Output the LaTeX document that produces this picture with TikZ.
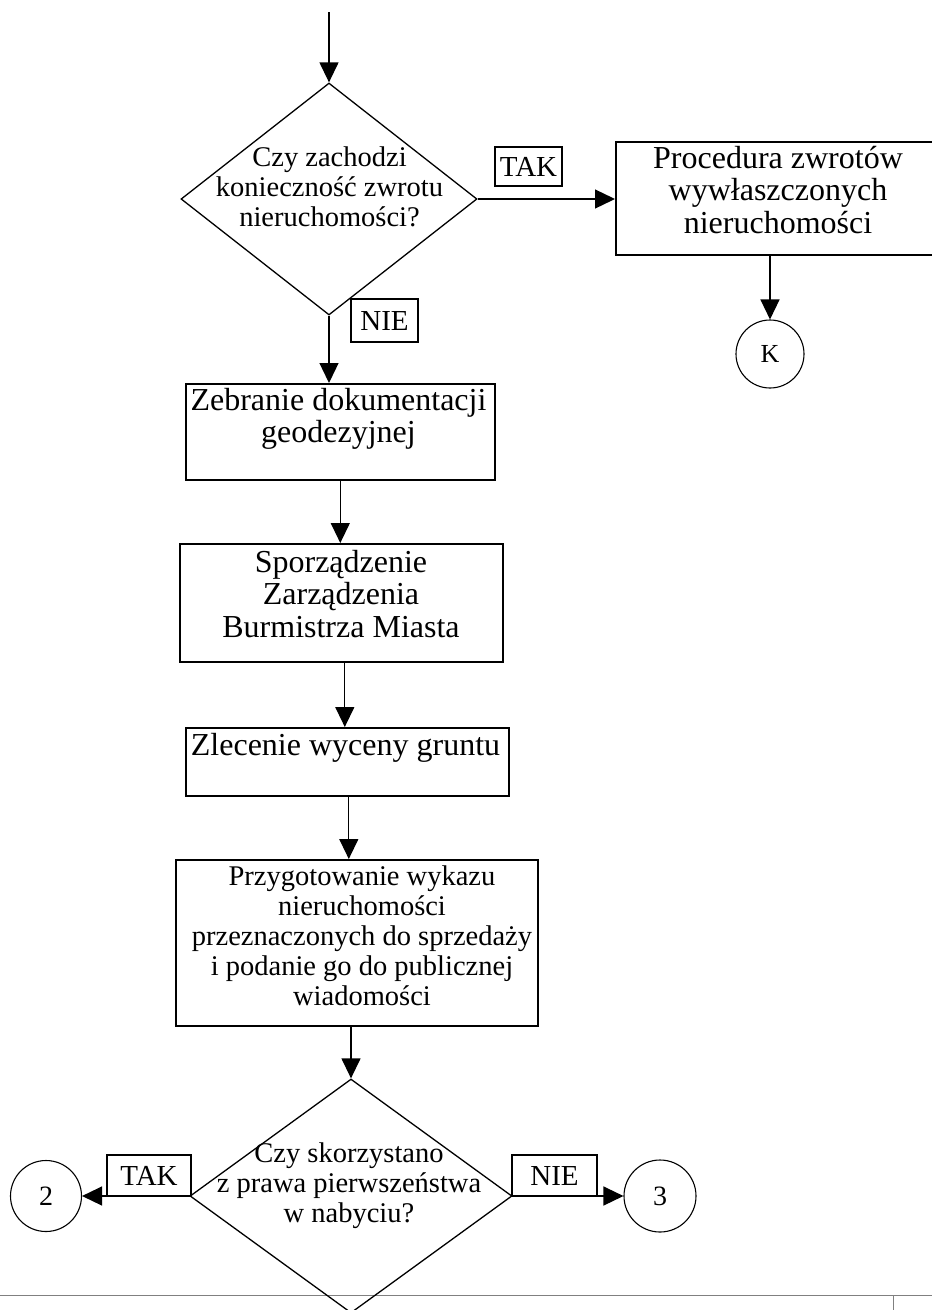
\documentclass[tikz,border=0pt]{standalone}
\usepackage{fontspec}
\setmainfont{Liberation Serif}
\usetikzlibrary{arrows.meta,shapes.geometric}
\newcommand\mlines[1]{\begin{tabular}[t]{@{}c@{}}#1\end{tabular}}
\begin{document}
\begin{tikzpicture}[x=1pt,y=-1pt,
  boxst/.style={draw, line width=1.6pt, rectangle, inner sep=0pt, anchor=north west},
  dec/.style={draw, diamond, line width=1.3pt, inner sep=0pt},
  arr/.style={line width=1.3pt, -{Triangle[length=20pt,width=19pt]}},
  txtL/.style={font=\fontsize{32}{32.5}\selectfont, inner sep=0pt, anchor=base},
  txtS/.style={font=\fontsize{28.5}{30}\selectfont, inner sep=0pt, anchor=base},
  lab/.style={draw, line width=1.4pt, rectangle, inner sep=0pt, font=\fontsize{29}{30}\selectfont},
  circ/.style={draw, circle, line width=1.1pt, inner sep=0pt, font=\fontsize{28}{30}\selectfont}
]
\useasboundingbox (0,0) rectangle (932,1310);

% footer lines
\draw[black!50, line width=1pt] (0,1295) -- (932,1295);
\draw[black!50, line width=1pt] (893,1295) -- (893,1310);

% first decision
\node[dec, minimum width=296pt, minimum height=232pt] (d1) at (329,199) {};
\node[txtS] (d1t) at (329.5,166) {\mlines{Czy zachodzi\\ konieczność zwrotu\\ nieruchomości?}};
\coordinate (start) at (329,12);

% right branch
\node[boxst, minimum width=326pt, minimum height=113pt] (pro) at (615,141) {};
\node[txtL] (prot) at (778,168) {\mlines{Procedura zwrotów\\ wywłaszczonych\\ nieruchomości}};
\node[circ, minimum size=68pt, font=\fontsize{26}{28}\selectfont] (K) at (770,354) {K};

\node[lab, minimum width=67pt, minimum height=39pt] (tak1) at (528.5,166.5) {TAK};
\node[lab, minimum width=67pt, minimum height=43pt] (nie1) at (384.5,320.5) {NIE};

% main column
\node[boxst, minimum width=309pt, minimum height=96pt] (zeb) at (185,383) {};
\node[txtL] (zebt) at (338.5,410) {\mlines{Zebranie dokumentacji\\ geodezyjnej}};

\node[boxst, minimum width=323pt, minimum height=118pt] (spo) at (179,543) {};
\node[txtL] (spot) at (341,572) {\mlines{Sporządzenie\\ Zarządzenia\\ Burmistrza Miasta}};

\node[boxst, minimum width=323pt, minimum height=68pt] (zle) at (185,727) {};
\node[txtL] (zlet) at (345.5,755) {Zlecenie wyceny gruntu};

\node[boxst, minimum width=362pt, minimum height=166pt] (prz) at (175,859) {};
\node[txtS] (przt) at (362,885) {\mlines{Przygotowanie wykazu\\ nieruchomości\\ przeznaczonych do sprzedaży\\ i podanie go do publicznej\\ wiadomości}};

% second decision
\node[dec, minimum width=322pt, minimum height=234pt] (d2) at (351,1196) {};
\node[txtS] (d2t) at (349,1162) {\mlines{Czy skorzystano\\ z prawa pierwszeństwa\\ w nabyciu?}};

\node[circ, minimum size=71pt] (c2) at (46,1196) {2};
\node[circ, minimum size=72pt] (c3) at (660,1196) {3};
\node[lab, minimum width=84pt, minimum height=41pt] (tak2) at (149,1175.5) {TAK};
\node[lab, minimum width=85pt, minimum height=41pt] (nie2) at (554.5,1175.5) {NIE};

% connectors
\draw[arr] (start) -- (d1.north);
\draw[arr] (d1.east) -- (d1.east -| pro.west);
\draw[arr] (K.north |- pro.south) -- (K.north);
\draw[arr] (d1.south) -- (d1.south |- zeb.north);
\draw[arr] (zeb.south) -- (zeb.south |- spo.north);
\draw[arr] ([xshift=3.5pt]spo.south) -- ([xshift=3.5pt]spo.south |- zle.north);
\draw[arr] ([xshift=1.5pt]zle.south) -- ([xshift=1.5pt]zle.south |- prz.north);
\draw[arr] (prz.south -| d2.north) -- (d2.north);
\draw[arr] (d2.west) -- (c2.east);
\draw[arr] (d2.east) -- (c3.west);
\end{tikzpicture}
\end{document}
